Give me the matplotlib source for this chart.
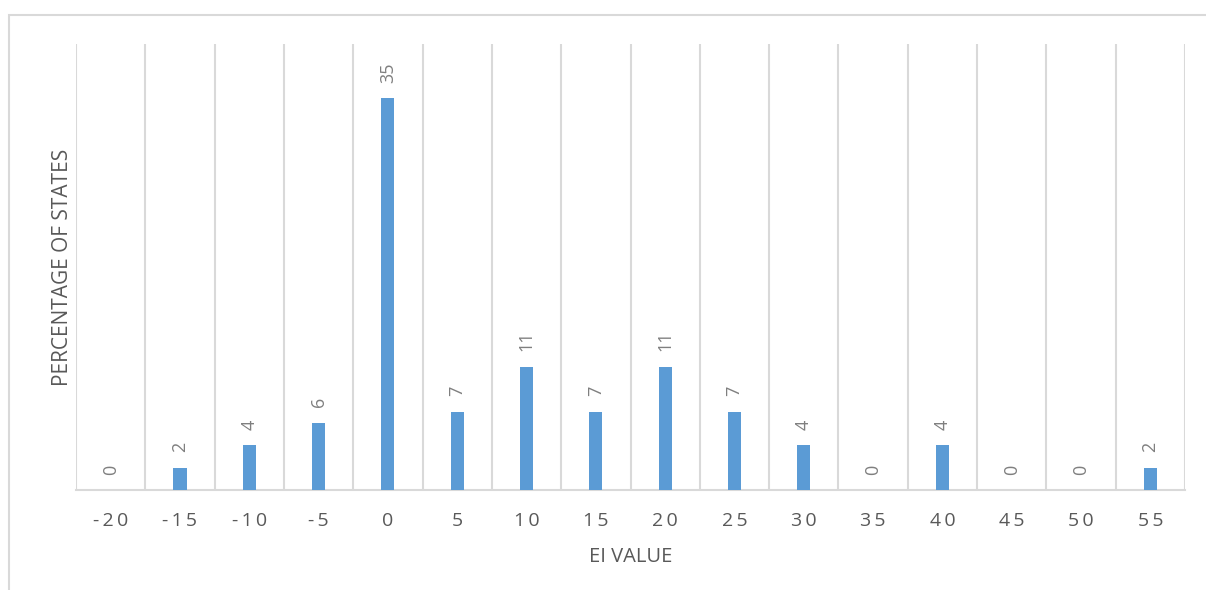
import matplotlib
matplotlib.use("Agg")
import matplotlib.pyplot as plt
from matplotlib.patches import Rectangle

# EI value bins and the share of states falling in each (percent)
ei_values = ["-20", "-15", "-10", "-5", "0", "5", "10", "15", "20",
             "25", "30", "35", "40", "45", "50", "55"]
pct_states = [0, 2, 4, 6, 35, 7, 11, 7, 11, 7, 4, 0, 4, 0, 0, 2]

bar_color = "#5B9BD5"
grid_color = "#D9D9D9"
text_color = "#595959"
value_color = "#7F7F7F"
font = ["Open Sans", "DejaVu Sans"]

W, H = 1206, 590
fig = plt.figure(figsize=(W / 100, H / 100), dpi=100)
fig.patch.set_facecolor("white")

# chart-area frame
fig.patches.append(Rectangle((9 / W, -0.1), 1.2, 1 - 15 / H + 0.1,
                             transform=fig.transFigure, fill=False,
                             edgecolor=grid_color, linewidth=1.5, zorder=0))

left, right, top, bottom = 76, 1185, 44, 490
ax = fig.add_axes([left / W, 1 - bottom / H, (right - left) / W, (bottom - top) / H])

x = list(range(len(ei_values)))
bars = ax.bar(x, pct_states, width=0.19, color=bar_color, zorder=3)

ax.set_xlim(-0.5, len(ei_values) - 0.5)
ax.set_ylim(0, 39.8)

# vertical separators between categories
for b in range(len(ei_values) + 1):
    ax.axvline(b - 0.5, color=grid_color, linewidth=1.5, zorder=1)

for s in ["top", "right", "left"]:
    ax.spines[s].set_visible(False)
ax.spines["bottom"].set_color(grid_color)
ax.spines["bottom"].set_linewidth(1.5)
ax.spines["bottom"].set_zorder(2)

# category labels are drawn with widened character spacing
spaced = ["\u2009".join(lbl) for lbl in ei_values]
ax.set_yticks([])
ax.set_xticks(x)
ax.set_xticklabels(spaced, fontsize=14, color=text_color, family=font)
ax.tick_params(axis="x", length=0, pad=16)

for xi, v in zip(x, pct_states):
    ax.annotate(str(v), (xi, v), xytext=(0, 11), textcoords="offset points",
                rotation=90, ha="center", va="bottom", fontsize=13,
                color=value_color, family=font)

ax.set_xlabel("EI VALUE", fontsize=14.5, color=text_color, family=font, labelpad=12)
ax.set_ylabel("PERCENTAGE OF STATES", fontsize=15, color=text_color, family=font,
              labelpad=2)

fig.savefig("out.png", dpi=100, facecolor="white")
